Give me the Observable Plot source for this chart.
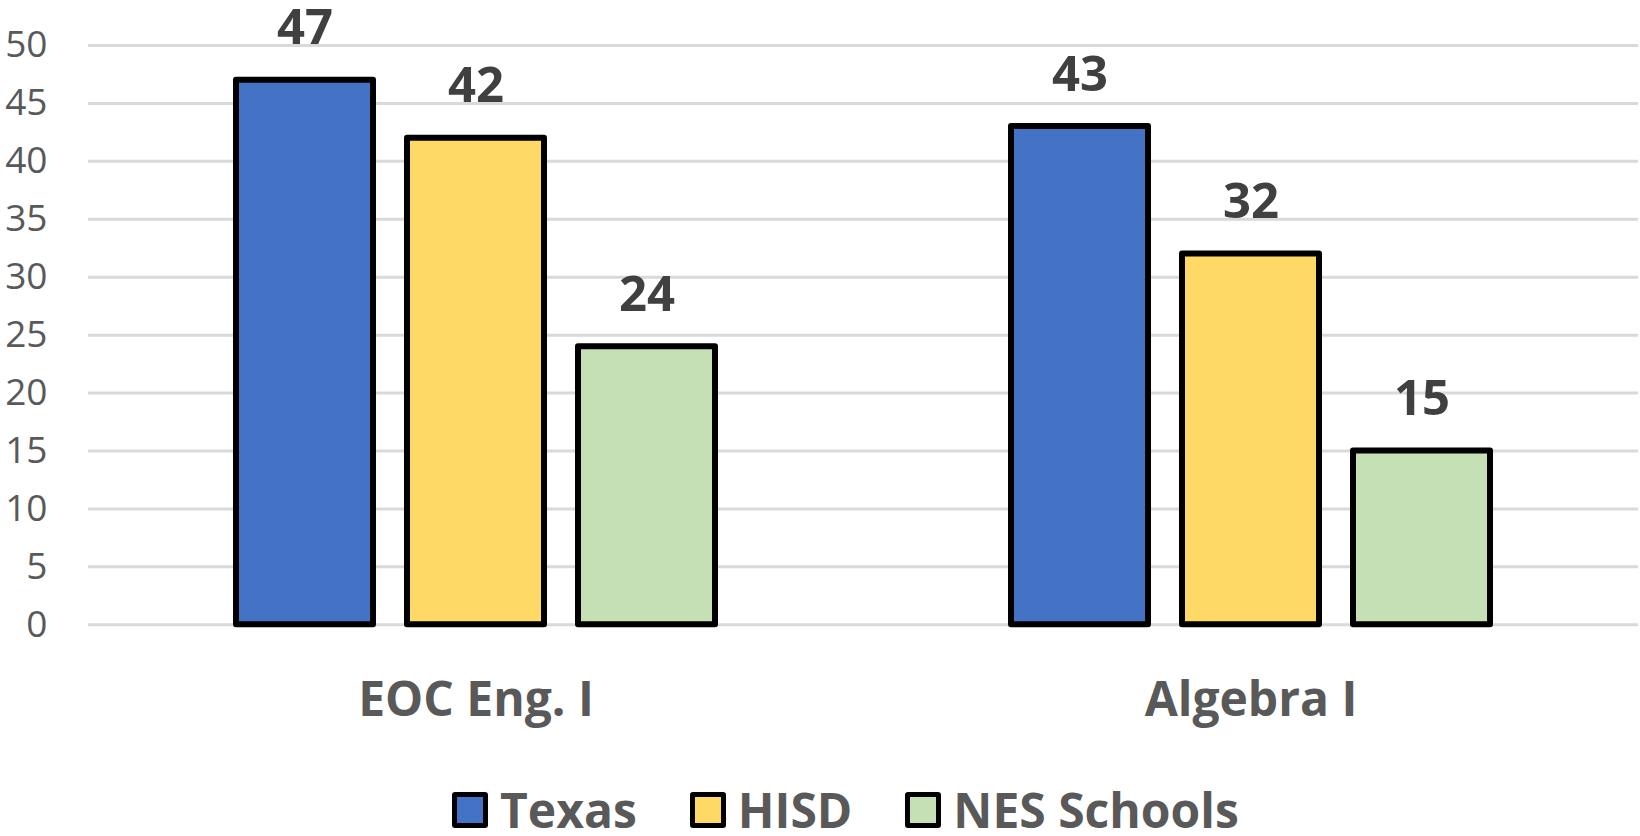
<!DOCTYPE html>
<html>
<head>
<meta charset="utf-8">
<script src="https://cdn.jsdelivr.net/npm/d3@7"></script>
<script src="https://cdn.jsdelivr.net/npm/@observablehq/plot@0.6"></script>
<style>
  html, body { margin: 0; padding: 0; background: #fff; }
  #wrap { position: relative; width: 1640px; height: 836px; overflow: hidden; font-family: "Open Sans", sans-serif; }
  #chart svg { display: block; }
  g[aria-label="fx-axis tick label"] text { font-weight: bold; }
  #legend { position: absolute; top: 792px; left: 452px; display: flex; align-items: center; height: 36px; }
  .item { display: flex; align-items: center; margin-right: 53px; }
  .sw { width: 36px; height: 36px; box-sizing: border-box; border: 5px solid #000; border-radius: 3px; }
  .lab { margin-left: 12px; font-size: 48px; font-weight: bold; color: #595959; line-height: 36px; }
</style>
</head>
<body>
<div id="wrap">
  <div id="chart"></div>
  <div id="legend"></div>
</div>
<script>
const categories = ["EOC Eng. I", "Algebra I"];
const series = ["Texas", "HISD", "NES Schools"];
const texas = [47, 43];
const hisd = [42, 32];
const nes = [24, 15];
const colors = ["#4472C4", "#FFD966", "#C5E0B4"];
const yTicks = [0, 5, 10, 15, 20, 25, 30, 35, 40, 45, 50];

const seriesValues = [texas, hisd, nes];
const data = categories.flatMap((c, i) =>
  series.map((s, j) => ({category: c, series: s, value: seriesValues[j][i]}))
);

const chart = Plot.plot({
  width: 1640,
  height: 770,
  marginLeft: 88,
  marginRight: 2,
  marginTop: 45,
  marginBottom: 145.7,
  style: {fontFamily: "Open Sans", background: "white", overflow: "visible"},
  fx: {domain: categories, padding: 0, label: null, axis: null},
  x: {domain: series, paddingInner: 0.2, paddingOuter: 0.86, axis: null},
  y: {domain: [0, 50], axis: null},
  color: {domain: series, range: colors},
  marks: [
    Plot.ruleY(yTicks, {stroke: "#d9d9d9", strokeWidth: 3}),
    Plot.axisY({ticks: yTicks, tickSize: 0, tickPadding: 41, fontSize: 37, color: "#595959", label: null}),
    Plot.axisFx({anchor: "bottom", tickSize: 0, tickPadding: 57, fontSize: 48, fontWeight: "bold", color: "#595959", label: null}),
    Plot.barY(data, {fx: "category", x: "series", y: "value", fill: "series", stroke: "#000", strokeWidth: 6, strokeLinejoin: "round"}),
    Plot.text(data, {fx: "category", x: "series", y: "value", text: d => String(d.value), dy: -36, lineAnchor: "bottom", fontSize: 49, fontWeight: "bold", fill: "#404040"})
  ]
});
document.getElementById("chart").appendChild(chart);

const legend = document.getElementById("legend");
series.forEach((s, i) => {
  const item = document.createElement("div");
  item.className = "item";
  const sw = document.createElement("div");
  sw.className = "sw";
  sw.style.background = colors[i];
  const lab = document.createElement("span");
  lab.className = "lab";
  lab.textContent = s;
  item.appendChild(sw);
  item.appendChild(lab);
  legend.appendChild(item);
});
</script>
</body>
</html>
